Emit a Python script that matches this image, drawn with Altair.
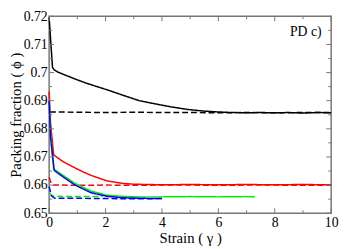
import altair as alt
import pandas as pd

# ---- data ----
black_solid_x = [0, 0.05, 0.12, 0.18, 0.3, 0.6, 0.9, 1.3, 1.7, 2.05, 2.6, 3.2, 3.8, 4.33, 4.9, 5.5, 6.0, 6.5, 7.0, 7.5, 8.0, 8.5, 9.0, 9.5, 10.0]
black_solid_y = [0.7197, 0.7120, 0.7018, 0.7010, 0.7002, 0.6990, 0.6978, 0.6963, 0.6950, 0.6939, 0.6920, 0.6900, 0.6888, 0.6878, 0.6869, 0.6863, 0.6860, 0.6858, 0.6857, 0.6858, 0.6857, 0.6858, 0.6856, 0.6858, 0.6857]

black_dash_x = [0.03, 1, 2, 3, 4, 5, 6, 7, 8, 9, 10]
black_dash_y = [0.6860, 0.6859, 0.6858, 0.6859, 0.6858, 0.6858, 0.6857, 0.6858, 0.6857, 0.6858, 0.6858]

red_solid_x = [0, 0.05, 0.16, 0.3, 0.5, 0.9, 1.2, 1.5, 2.05, 2.6, 3.0, 3.5, 4, 5, 6, 7, 8, 9, 10]
red_solid_y = [0.6933, 0.6820, 0.6708, 0.6697, 0.6683, 0.6662, 0.6647, 0.6634, 0.6615, 0.6606, 0.6603, 0.6602, 0.6601, 0.6602, 0.6601, 0.6602, 0.6601, 0.6602, 0.6601]

red_dash_x = [0, 0.06, 0.15, 0.5, 1, 2, 3, 4, 5, 6, 7, 8, 9, 10]
red_dash_y = [0.6628, 0.6610, 0.6600, 0.6600, 0.6599, 0.6600, 0.6599, 0.6600, 0.6600, 0.6599, 0.6600, 0.6600, 0.6599, 0.6600]

green_solid_x = [0, 0.05, 0.16, 0.4, 0.9, 1.48, 2.05, 2.6, 3.2, 4, 5, 6, 7, 7.3]
green_solid_y = [0.6900, 0.6780, 0.6658, 0.6641, 0.6607, 0.6579, 0.6564, 0.6560, 0.6558, 0.6558, 0.6559, 0.6558, 0.6559, 0.6558]

green_dash_x = [0.02, 0.1, 0.2, 1.0, 1.9]
green_dash_y = [0.6572, 0.6563, 0.6560, 0.6559, 0.6560]

blue_solid_x = [0, 0.05, 0.18, 0.4, 0.9, 1.48, 2.05, 2.6, 3.2, 4.0]
blue_solid_y = [0.6900, 0.6770, 0.6652, 0.6636, 0.6601, 0.6573, 0.6560, 0.6555, 0.6553, 0.6552]

blue_dash_x = [0, 0.08, 0.2, 1, 2, 3, 4]
blue_dash_y = [0.6595, 0.6562, 0.6553, 0.6553, 0.6552, 0.6551, 0.6552]

x_major = [0, 2, 4, 6, 8, 10]
x_minor = [1, 3, 5, 7, 9]
y_major = [0.65, 0.66, 0.67, 0.68, 0.69, 0.70, 0.71, 0.72]
y_minor = [0.655, 0.665, 0.675, 0.685, 0.695, 0.705, 0.715]

W, H = 288, 201
FONT = "Liberation Serif"

xs = alt.Scale(domain=[0, 10], nice=False)
ys = alt.Scale(domain=[0.65, 0.72], nice=False, zero=False)

x_axis = alt.Axis(values=x_major, format="d", ticks=False, domain=False, grid=False,
                  labelFont=FONT, labelFontSize=14, labelColor="black", labelPadding=3,
                  labelOverlap=False, labelFlush=False,
                  title="Strain ( γ )", titleFont=FONT, titleFontSize=15,
                  titleFontWeight="normal", titleColor="black", titlePadding=1)
y_axis = alt.Axis(values=y_major, format="~g", ticks=False, domain=False, grid=False,
                  labelFont=FONT, labelFontSize=14, labelColor="black", labelPadding=2,
                  labelOverlap=False, labelFlush=False,
                  title="Packing fraction ( ϕ )", titleFont=FONT, titleFontSize=15,
                  titleFontWeight="normal", titleColor="black", titlePadding=0)


def series(xv, yv, color, dashed, first=False):
    df = pd.DataFrame({"x": xv, "y": yv})
    mk = alt.Chart(df).mark_line(color=color, strokeWidth=1.5,
                                 strokeDash=[6, 3] if dashed else [1, 0])
    if first:
        return mk.encode(x=alt.X("x:Q", scale=xs, axis=x_axis),
                         y=alt.Y("y:Q", scale=ys, axis=y_axis))
    return mk.encode(x=alt.X("x:Q", scale=xs, axis=None), y=alt.Y("y:Q", scale=ys, axis=None))


layers = [
    series(black_dash_x, black_dash_y, "black", True, first=True),
    series(black_solid_x, black_solid_y, "black", False),
    series(red_dash_x, red_dash_y, "#ff0000", True),
    series(red_solid_x, red_solid_y, "#ff0000", False),
    series(green_dash_x, green_dash_y, "#00ee00", True),
    series(green_solid_x, green_solid_y, "#00ee00", False),
    series(blue_dash_x, blue_dash_y, "#0000ff", True),
    series(blue_solid_x, blue_solid_y, "#0000ff", False),
]

TICK = "#777777"


def xticks(vals, length):
    d = pd.DataFrame({"v": vals})
    b = alt.Chart(d).mark_rule(color=TICK, strokeWidth=1).encode(
        x=alt.X("v:Q", scale=xs, axis=None), y=alt.value(H), y2=alt.value(H - length))
    t = alt.Chart(d).mark_rule(color=TICK, strokeWidth=1).encode(
        x=alt.X("v:Q", scale=xs, axis=None), y=alt.value(0), y2=alt.value(length))
    return [b, t]


def yticks(vals, length):
    d = pd.DataFrame({"v": vals})
    l = alt.Chart(d).mark_rule(color=TICK, strokeWidth=1).encode(
        y=alt.Y("v:Q", scale=ys, axis=None), x=alt.value(0), x2=alt.value(length))
    r = alt.Chart(d).mark_rule(color=TICK, strokeWidth=1).encode(
        y=alt.Y("v:Q", scale=ys, axis=None), x=alt.value(W), x2=alt.value(W - length))
    return [l, r]


ticks = xticks(x_major, 5) + xticks(x_minor, 3) + yticks(y_major, 5) + yticks(y_minor, 3)

label_df = pd.DataFrame({"x": [9.66], "y": [0.7145], "t": ["PD  c)"]})
label = alt.Chart(label_df).mark_text(font=FONT, fontSize=14, align="right",
                                      baseline="middle", color="black").encode(
    x=alt.X("x:Q", scale=xs, axis=None), y=alt.Y("y:Q", scale=ys, axis=None), text="t:N")

chart = alt.layer(*layers, *ticks, label).resolve_axis(
    x="independent", y="independent"
).properties(
    width=W, height=H,
    autosize=alt.AutoSizeParams(type="none"),
    padding={"left": 42, "top": 6, "right": 8, "bottom": 32},
).configure_view(stroke="#777777", strokeWidth=1.5).configure_axis(
    labelFont=FONT, titleFont=FONT, labelOverlap=False
).configure_text(font=FONT)

chart.save("out.html", embed_options={"renderer": "svg", "actions": False})
